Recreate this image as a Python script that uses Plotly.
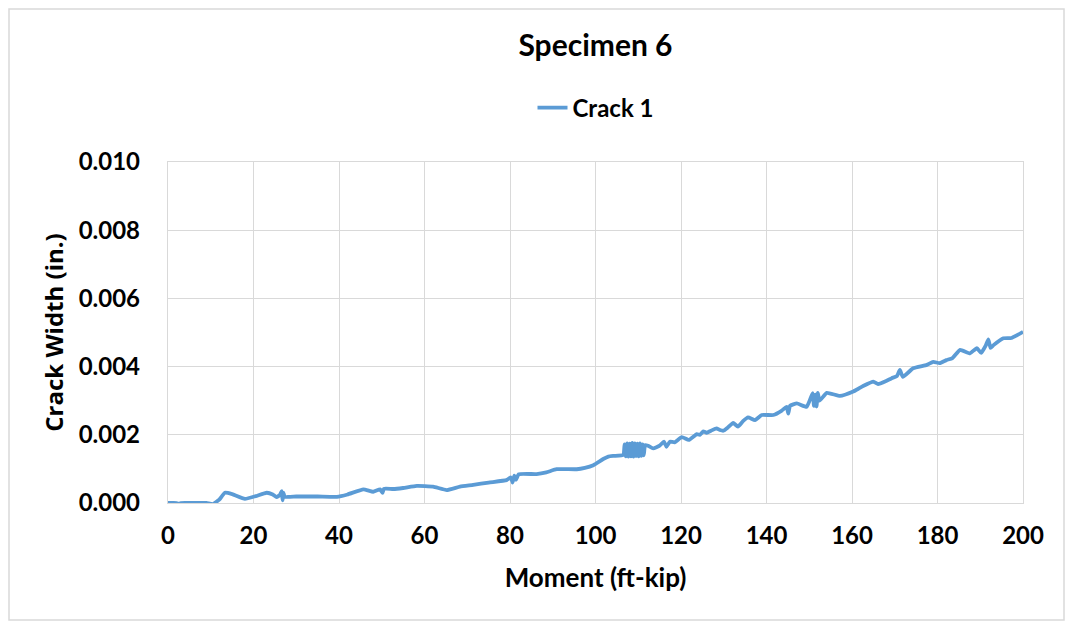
import plotly.graph_objects as go

# Crack 1 readings (moment in ft-kip, crack width in in.)
moment = [0, 2, 2.5, 3, 6, 9, 10.5, 12, 13.3, 15, 18, 20.5, 23.1, 24.5, 25.4, 26.2, 26.6, 26.8,
          27.0, 27.3, 30, 35, 39.5, 42, 45.7, 48, 49.6, 50.2, 50.5, 52.7, 55, 58.2, 62, 65.2,
          68.3, 71.4, 75, 79.2, 80.2, 80.6, 81, 81.4, 82, 86.2, 88.5, 90.9, 95.6, 97.5, 99.5,
          101.8, 103, 104.2, 106.5, 106.8, 107.1, 107.4, 107.7, 108.0, 108.3, 108.6, 108.9,
          109.2, 109.5, 109.8, 110.1, 110.4, 110.7, 111.0, 111.3, 111.6, 112.3, 113.5, 115,
          116, 116.6, 117.4, 118.5, 120.2, 121.8, 123.7, 124.4,
          125.2, 126, 127, 128.3, 129.1, 129.9, 131, 132.2, 133.3, 134.5, 135.7, 137.3, 138.9,
          141.6, 143.5, 144.7, 145.1, 145.5, 147.1, 149.4, 150.8, 151.1, 151.4, 151.7, 152.0,
          152.4, 154.1, 157.2, 160.3, 161.5, 162.6, 165, 166.1, 168, 169.3, 170.5, 171.2,
          171.9, 174.3, 177.5, 179, 180.5, 182.1, 183.5, 185.3, 187.6, 189.2, 190.2, 191.3,
          191.9, 192.4, 193.1, 195.4, 197.3, 200]
width = [0.00000, 0.00000, -0.00003, 0.00000, 0.00000, 0.00000, -0.00003, 0.00010, 0.00030,
         0.00026, 0.00012, 0.00020, 0.00030, 0.00025, 0.00017, 0.00024, 0.00035, 0.00008,
         0.00030, 0.00018, 0.00019, 0.00019, 0.00018, 0.00025, 0.00040, 0.00033, 0.00040,
         0.00030, 0.00042, 0.00041, 0.00044, 0.00050, 0.00048, 0.00038, 0.00048, 0.00053,
         0.00060, 0.00067, 0.00075, 0.00060, 0.00080, 0.00068, 0.00084, 0.00085, 0.00090,
         0.00099, 0.00099, 0.00103, 0.00111, 0.00129, 0.00136, 0.00138, 0.00141,
         0.00172, 0.00137, 0.00175, 0.00136, 0.00174, 0.00137, 0.00176, 0.00136, 0.00175,
         0.00138, 0.00174, 0.00137, 0.00175, 0.00138, 0.00172, 0.00140, 0.00170,
         0.00168, 0.00160, 0.00168, 0.00180, 0.00165, 0.00180, 0.00178, 0.00193, 0.00185,
         0.00202, 0.00200, 0.00210, 0.00206, 0.00212, 0.00219, 0.00214, 0.00212, 0.00222,
         0.00235, 0.00224, 0.00240, 0.00251, 0.00243, 0.00258, 0.00258, 0.00270, 0.00282,
         0.00262, 0.00285, 0.00292, 0.00282, 0.00322, 0.00285, 0.00318, 0.00283, 0.00323,
         0.00300, 0.00323, 0.00314, 0.00327, 0.00335, 0.00343, 0.00356, 0.00349, 0.00358,
         0.00366, 0.00372, 0.00390, 0.00370, 0.00395, 0.00405, 0.00414, 0.00410, 0.00419,
         0.00425, 0.00449, 0.00439, 0.00454, 0.00440, 0.00462, 0.00480, 0.00455, 0.00463,
         0.00483, 0.00484, 0.00502]

x_ticks = [0, 20, 40, 60, 80, 100, 120, 140, 160, 180, 200]
y_ticks = [0.000, 0.002, 0.004, 0.006, 0.008, 0.010]

FONT = "Lato"
GRID = "#d9d9d9"
W, H = 1057, 613
L, T, PW, PH = 160, 154, 855, 341

fig = go.Figure()
fig.add_trace(go.Scatter(x=moment, y=width, mode="lines", name="<b>Crack 1</b>",
                         line=dict(color="#5b9bd5", width=3.8, shape="spline", smoothing=0.4)))

fig.update_layout(
    width=W, height=H,
    margin=dict(l=L, r=W - L - PW, t=T, b=H - T - PH),
    paper_bgcolor="white", plot_bgcolor="white",
    font=dict(family=FONT, color="black"),
    title=dict(text="<b>Specimen 6</b>", x=0.5, xref="paper", xanchor="center",
               y=1 - 37 / H, yanchor="middle", font=dict(size=30, family=FONT)),
    showlegend=True,
    legend=dict(orientation="h", x=0.5, xanchor="center", y=1 + (T - 100) / PH, yanchor="middle",
                font=dict(size=24, family=FONT), bgcolor="rgba(0,0,0,0)"),
    xaxis=dict(range=[0, 200], tickvals=x_ticks, ticktext=[f"<b>{v}</b>" for v in x_ticks],
               tickfont=dict(size=24), showgrid=True, gridcolor=GRID, gridwidth=1.3,
               showline=True, linecolor=GRID, linewidth=1.3, mirror=True, zeroline=False,
               ticks="outside", ticklen=11, tickcolor="rgba(0,0,0,0)",
               title=dict(text="<b>Moment (ft-kip)</b>", font=dict(size=26), standoff=20)),
    yaxis=dict(range=[0, 0.010], tickvals=y_ticks, ticktext=[f"<b>{v:.3f}</b>" for v in y_ticks],
               tickfont=dict(size=24), showgrid=True, gridcolor=GRID, gridwidth=1.3,
               showline=True, linecolor=GRID, linewidth=1.3, mirror=True, zeroline=False,
               ticks="outside", ticklen=22, tickcolor="rgba(0,0,0,0)",
               title=dict(text="<b>Crack Width (in.)</b>", font=dict(size=24, family="Open Sans"),
                          standoff=8)),
)

# outer chart border
fig.add_shape(type="rect", xref="paper", yref="paper",
              x0=-(L - 1) / PW, x1=1 + (W - L - PW - 1) / PW,
              y0=-(H - T - PH - 1) / PH, y1=1 + (T - 1) / PH,
              line=dict(color=GRID, width=1.5), fillcolor="rgba(0,0,0,0)", layer="below")

fig.write_html("out.html")
